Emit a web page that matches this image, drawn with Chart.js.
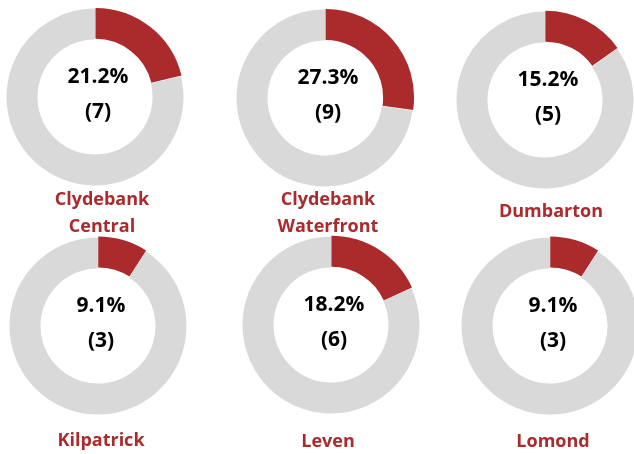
<!DOCTYPE html>
<html>
<head>
<meta charset="utf-8">
<script src="https://cdn.jsdelivr.net/npm/chart.js@4/dist/chart.umd.min.js"></script>
<style>
    body { margin: 0; background: #fff; }
    #wrap { position: relative; width: 634px; height: 454px; overflow: hidden; }
    .ring { position: absolute; width: 180px; height: 180px; }
    .lbl { position: absolute; width: 200px; text-align: center; color: #AB2A2C;
           font: bold 18px "Open Sans", sans-serif; line-height: 27px; }
</style>
</head>
<body>
<div id="wrap"></div>
<script>
var areas = ['Clydebank\nCentral', 'Clydebank\nWaterfront', 'Dumbarton', 'Kilpatrick', 'Leven', 'Lomond'];
var counts = [7, 9, 5, 3, 6, 3];
var others = [26, 24, 28, 30, 27, 30];
var pctLabels = ['21.2%', '27.3%', '15.2%', '9.1%', '18.2%', '9.1%'];

// ring centres and label tops on the page
var centres = [[95, 97], [325, 98], [545, 100], [98, 326], [331, 325], [550, 326]];
var labelTops = [185, 185, 197, 426, 427, 427];
var labelX = [102, 328, 551, 101, 328, 553];

var rojo = '#AB2A2C';
var gris = '#D9D9D9';

var centerText = {
    id: 'centerText',
    afterDraw: function (chart) {
        var ctx = chart.ctx;
        var arc = chart.getDatasetMeta(0).data[0];
        var i = chart.options.plugins.centerText.index;
        ctx.save();
        ctx.fillStyle = '#000';
        ctx.textAlign = 'center';
        ctx.textBaseline = 'middle';
        ctx.font = 'bold 21px "Open Sans", sans-serif';
        ctx.fillText(pctLabels[i], arc.x + 3, arc.y - 20);
        ctx.fillText('(' + counts[i] + ')', arc.x + 3, arc.y + 15);
        ctx.restore();
    }
};

var wrap = document.getElementById('wrap');
areas.forEach(function (name, i) {
    var box = document.createElement('div');
    box.className = 'ring';
    box.style.left = (centres[i][0] - 90) + 'px';
    box.style.top = (centres[i][1] - 90) + 'px';
    var cv = document.createElement('canvas');
    cv.width = 180;
    cv.height = 180;
    box.appendChild(cv);
    wrap.appendChild(box);

    new Chart(cv.getContext('2d'), {
        type: 'doughnut',
        data: {
            labels: [name, 'Other'],
            datasets: [{
                data: [counts[i], others[i]],
                backgroundColor: [rojo, gris],
                borderWidth: 0,
                offset: [3, 0]
            }]
        },
        options: {
            responsive: false,
            animation: false,
            cutout: '65%',
            plugins: {
                legend: { display: false },
                tooltip: { enabled: false },
                centerText: { index: i }
            }
        },
        plugins: [centerText]
    });

    var lbl = document.createElement('div');
    lbl.className = 'lbl';
    lbl.style.left = (labelX[i] - 100) + 'px';
    lbl.style.top = labelTops[i] + 'px';
    lbl.innerHTML = name.replace('\n', '<br>');
    wrap.appendChild(lbl);
});
</script>
</body>
</html>
